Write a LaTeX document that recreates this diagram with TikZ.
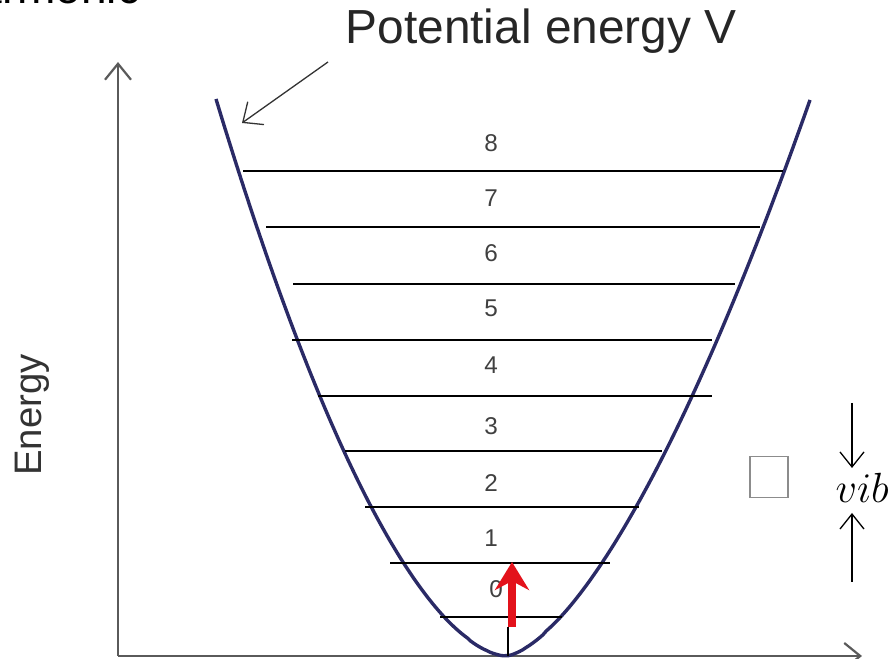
\documentclass[tikz,border=0pt]{standalone}
\usepackage{fontspec}
\setmainfont{Liberation Sans}
\usetikzlibrary{arrows.meta}
\definecolor{axisgray}{HTML}{5A5A5A}
\definecolor{wellblue}{HTML}{2A2A66}
\definecolor{redarrow}{HTML}{E3121B}
\tikzset{
  axisline/.style={draw=axisgray, line width=0.022cm, -{Straight Barb[length=1.6mm,width=2.6mm]}},
  well/.style={draw=wellblue, line width=0.034cm, line join=round},
  level/.style={draw=black, line width=0.019cm},
  lvlnum/.style={font=\fontsize{6.9}{8}\selectfont, text=black!75, inner sep=0pt},
  pointer/.style={draw=black!80, line width=0.013cm, -{Straight Barb[length=1.6mm,width=2.8mm]}},
  thinarrow/.style={draw=black, line width=0.013cm, -{Straight Barb[length=1.5mm,width=2.4mm]}},
}
\begin{document}
\begin{tikzpicture}[x=0.01cm,y=-0.01cm]
\useasboundingbox (0,0) rectangle (893,659);
% cut-off title at top edge
\begin{scope}
\clip (0,0) rectangle (893,659);
\node[anchor=base east, inner sep=0pt, font=\fontsize{13.1}{15}\selectfont] (title) at (141,4) {Harmonic};
\end{scope}
% axes
\coordinate (O) at (118,656);
\coordinate (ytip) at (118,62);
\coordinate (xtip) at (862,656);
\draw[axisline] (O) -- (ytip);
\draw[axisline] (O) -- (xtip);
\node[rotate=90, font=\fontsize{10.9}{13}\selectfont, text=black!80] (energy) at (32,415) {Energy};
% potential well
\draw[well] plot[domain=1:0.01,samples=90] ({506-290*\x},{656-557*pow(\x,1.72)})
  -- plot[domain=0.01:1,samples=90] ({506+304*\x},{656-556*pow(\x,1.55)});
% levels
\draw[level] (243,171) -- (783,171);
\draw[level] (266,227) -- (760,227);
\draw[level] (293,284) -- (735,284);
\draw[level] (292,340) -- (712,340);
\draw[level] (318,396) -- (712,396);
\draw[level] (345,451) -- (662,451);
\draw[level] (365,507) -- (639,507);
\draw[level] (390,563) -- (610,563);
\draw[level] (440,617) -- (562,617);
\node[lvlnum] (n8) at (491,143) {8};
\node[lvlnum] (n7) at (491,198) {7};
\node[lvlnum] (n6) at (491,253) {6};
\node[lvlnum] (n5) at (491,308) {5};
\node[lvlnum] (n4) at (491,365) {4};
\node[lvlnum] (n3) at (491,426) {3};
\node[lvlnum] (n2) at (491,483) {2};
\node[lvlnum] (n1) at (491,538) {1};
\node[lvlnum] (n0) at (496,589) {0};
% label and pointer
\node[anchor=base west, inner sep=0pt, font=\fontsize{13.6}{16}\selectfont, text=black!85] (pot) at (345,44) {Potential energy V};
\coordinate (potstart) at (328,62);
\coordinate (pottip) at (242,123);
\draw[pointer] (potstart) -- (pottip);
% transition arrow
\coordinate (vtx) at (508,656);
\coordinate (rbot) at (512,627);
\coordinate (rtop) at (512,562);
\draw[draw=black, line width=0.012cm] (vtx) -- (508,627);
\draw[draw=redarrow, line width=0.075cm, -{Stealth[length=2.8mm,width=3.4mm,inset=0.9mm]}] (rbot) -- (rtop);
% box and vib marker
\node[draw=black!45, line width=0.012cm, minimum width=0.38cm, minimum height=0.41cm, inner sep=0pt] (box) at (769,477) {};
\coordinate (a1s) at (852,403);
\coordinate (a1e) at (852,468);
\coordinate (a2s) at (852,582);
\coordinate (a2e) at (852,513);
\draw[thinarrow] (a1s) -- (a1e);
\draw[thinarrow] (a2s) -- (a2e);
\node[anchor=base west, inner sep=0pt, font=\fontsize{11.5}{13}\selectfont] (vib) at (835,503) {$vib$};
\end{tikzpicture}
\end{document}
